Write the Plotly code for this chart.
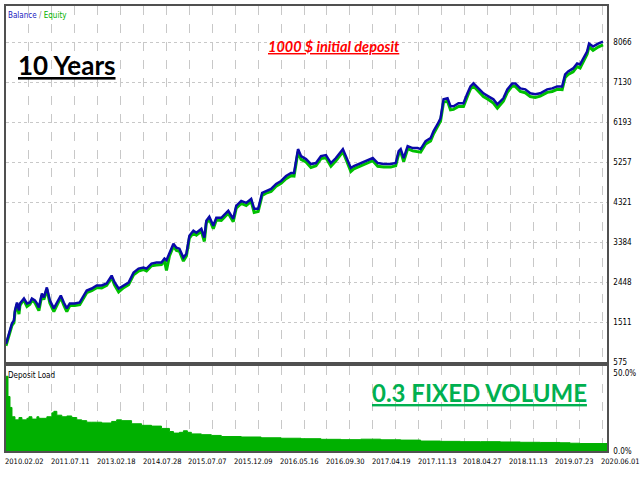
import plotly.graph_objects as go

# balance / equity curve, sampled along the tester time axis
bars = [0, 3, 6, 8, 9, 11, 13, 14, 16, 18, 21, 24, 26, 29, 31, 33, 36, 38, 41, 44,
        48, 51, 55, 58, 61, 64, 69, 74, 78, 81, 86, 91, 96, 101, 106, 109, 113, 118, 123, 128,
        133, 138, 141, 146, 151, 156, 159, 161, 164, 168, 171, 174, 178, 181, 184, 188, 191, 196, 199, 201,
        204, 208, 211, 216, 223, 228, 231, 236, 241, 246, 249, 253, 257, 261, 266, 271, 276, 281, 286, 289,
        293, 296, 301, 306, 311, 316, 321, 326, 331, 338, 341, 346, 349, 356, 361, 368, 373, 379, 386, 391,
        394, 396, 399, 403, 408, 413, 416, 421, 426, 429, 433, 436, 439, 443, 446, 449, 454, 459, 463, 466,
        469, 474, 479, 484, 489, 493, 496, 499, 503, 508, 511, 516, 521, 526, 531, 536, 543, 548, 553, 558,
        561, 564, 569, 573, 576, 579, 583, 585, 589, 594, 599]
balance = [1000, 1251, 1484, 1554, 1787, 1973, 1787, 1950, 2020, 2066, 1950, 1973, 2066, 2020, 1950, 1857, 2183, 2090, 2323, 2020,
           1833, 1950, 2136, 1973, 1833, 1950, 1950, 1973, 2136, 2253, 2299, 2369, 2369, 2416, 2602, 2439, 2299, 2369, 2439, 2672,
           2765, 2789, 2765, 2882, 2905, 2905, 2998, 2960, 3115, 3348, 3255, 3231, 3022, 3115, 3534, 3651, 3604, 3697, 3488, 3884,
           3977, 3767, 3954, 3954, 4117, 3930, 4233, 4350, 4303, 4396, 4163, 4163, 4536, 4583, 4629, 4746, 4816, 4932, 5002, 5002,
           5561, 5398, 5328, 5212, 5235, 5398, 5421, 5235, 5352, 5561, 5398, 5119, 5165, 5235, 5282, 5352, 5235, 5212, 5212, 5235,
           5515, 5561, 5352, 5631, 5585, 5585, 5561, 5748, 5818, 5981, 6144, 6284, 6726, 6750, 6563, 6563, 6633, 6633, 6866, 7029,
           7099, 6983, 6866, 6796, 6726, 6610, 6680, 6750, 6959, 7099, 7099, 6983, 6959, 6866, 6843, 6866, 6959, 6983, 7029, 7029,
           7309, 7379, 7449, 7565, 7542, 7682, 7845, 8031, 7961, 8031, 8078]
equity = [960, 1200, 1440, 1500, 1740, 1930, 1700, 1900, 1980, 2020, 1880, 1930, 2020, 1970, 1890, 1780, 2140, 2040, 2280, 1960,
          1760, 1900, 2090, 1910, 1760, 1900, 1900, 1920, 2080, 2200, 2250, 2320, 2310, 2370, 2550, 2380, 2220, 2320, 2390, 2620,
          2710, 2740, 2710, 2830, 2850, 2860, 2950, 2720, 3060, 3290, 3190, 3170, 2940, 3060, 3480, 3600, 3550, 3640, 3400, 3830,
          3920, 3700, 3900, 3890, 4060, 3860, 4180, 4290, 4240, 4340, 4080, 4100, 4480, 4530, 4570, 4690, 4760, 4870, 4940, 4930,
          5500, 5320, 5260, 5130, 5170, 5340, 5360, 5160, 5290, 5500, 5330, 5040, 5100, 5170, 5220, 5290, 5160, 5140, 5140, 5170,
          5450, 5500, 5270, 5570, 5520, 5510, 5490, 5680, 5750, 5920, 6080, 6220, 6660, 6680, 6480, 6490, 6560, 6560, 6800, 6970,
          7040, 6910, 6790, 6720, 6640, 6520, 6610, 6680, 6890, 7040, 7030, 6910, 6880, 6790, 6770, 6800, 6890, 6910, 6960, 6950,
          7240, 7310, 7370, 7490, 7460, 7610, 7780, 7960, 7870, 7950, 8000]

# deposit load (%)
load_bars = [0, 2, 4, 6, 9, 13, 16, 21, 23, 26, 31, 33, 36, 41, 46, 48, 51, 56, 61, 66,
             71, 76, 81, 86, 91, 96, 106, 111, 116, 126, 136, 146, 156, 164, 168, 174, 178, 182, 186, 196,
             206, 216, 236, 256, 276, 296, 316, 336, 356, 376, 396, 416, 436, 456, 476, 496, 516, 536, 556, 566,
             576, 603]
load = [48, 35, 28, 22, 20, 21.5, 20, 21, 22, 20.5, 22, 21, 21, 22, 24.5, 25.5, 23, 22, 22.5, 21.5,
        20, 19.5, 18.5, 18.5, 18.5, 18, 19, 20, 19.5, 17.5, 16.5, 16, 14.5, 12.5, 11.5, 12, 13, 12, 11, 10.5,
        10, 9.3, 9, 8.5, 8.2, 7.9, 7.5, 7.3, 7.6, 7.2, 7, 6.4, 6.2, 6, 6, 5.8, 5.6, 5.5, 5.3, 5,
        4.8, 4.6]

y_ticks = [575, 1511, 2448, 3384, 4321, 5257, 6193, 7130, 8066]
date_labels = ["2010.02.02", "2011.07.11", "2013.02.18", "2014.07.28", "2015.07.07",
               "2015.12.09", "2016.05.16", "2016.09.30", "2017.04.19", "2017.11.13",
               "2018.04.27", "2018.11.13", "2019.07.23", "2020.06.01"]

SMALL = "DejaVu Sans Condensed, DejaVu Sans, sans-serif"
BIG = "Lato, Roboto, sans-serif"
grid_x = list(range(0, 599, 23))

fig = go.Figure()
fig.add_trace(go.Scatter(x=bars, y=equity, mode="lines",
                         line=dict(color="#00c000", width=3), xaxis="x", yaxis="y"))
fig.add_trace(go.Scatter(x=bars, y=balance, mode="lines",
                         line=dict(color="#0a0aa8", width=2.5), xaxis="x", yaxis="y"))
fig.add_trace(go.Scatter(x=load_bars, y=load, mode="lines", fill="tozeroy",
                         line=dict(color="#00b000", width=1, shape="hv"),
                         fillcolor="#00b000", xaxis="x2", yaxis="y2"))

axis_common = dict(showline=True, mirror=True, linecolor="#505050", linewidth=1.5,
                   zeroline=False)

fig.update_layout(
    width=640, height=480,
    margin=dict(l=4, r=33, t=5, b=29),
    paper_bgcolor="white", plot_bgcolor="white",
    showlegend=False,
    font=dict(family=SMALL, size=8, color="black"),
    xaxis=dict(range=[0, 603], tickvals=grid_x, showticklabels=False, ticks="",
               showgrid=True, gridcolor="#c8c8c8", griddash="dash", anchor="y",
               **axis_common),
    yaxis=dict(domain=[0.1996, 1], range=[575, 8910], side="right",
               tickvals=y_ticks, ticktext=[str(v) for v in y_ticks],
               showgrid=True, gridcolor="#c8c8c8", griddash="dot",
               ticks="", ticklabelstandoff=3, tickfont=dict(size=8),
               **axis_common),
    xaxis2=dict(range=[0, 603], tickvals=grid_x, showticklabels=False, ticks="",
                showgrid=True, gridcolor="#c8c8c8", griddash="dash", anchor="y2",
                matches="x", **axis_common),
    yaxis2=dict(domain=[0, 0.1906], range=[0, 54.5], side="right",
                tickvals=[0, 50], ticktext=["0.0%", "50.0%"], showgrid=False,
                ticks="", ticklabelstandoff=3, tickfont=dict(size=8),
                **axis_common),
)

for i, lab in enumerate(date_labels):
    fig.add_annotation(x=grid_x[i * 2], y=0, xref="x2", yref="paper",
                       text=lab, showarrow=False, xanchor="left", yanchor="top",
                       yshift=-4, xshift=-3, font=dict(size=7.5, family=SMALL))

fig.add_annotation(x=0.0, y=0.978, xref="paper", yref="paper", showarrow=False,
                   xanchor="left", yanchor="middle",
                   text="<span style='color:#2020c0'>Balance</span> "
                        "<span style='color:#808080'>/</span> "
                        "<span style='color:#00b000'>Equity</span>",
                   font=dict(size=8, family=SMALL))
fig.add_annotation(x=0.0, y=0.170, xref="paper", yref="paper", showarrow=False,
                   xanchor="left", yanchor="middle", text="Deposit Load",
                   font=dict(size=8, family=SMALL))
fig.add_annotation(x=0.101, y=0.868, xref="paper", yref="paper", showarrow=False,
                   xanchor="center", yanchor="middle", text="<b>10 Years</b>",
                   font=dict(size=26, family=BIG, color="black", lineposition="under"))
fig.add_annotation(x=0.5456, y=0.908, xref="paper", yref="paper", showarrow=False,
                   xanchor="center", yanchor="middle", text="<b><i>1000 $ initial deposit</i></b>",
                   font=dict(size=14.5, family=BIG, color="#ff0000", lineposition="under"))
fig.add_annotation(x=0.7877, y=0.1323, xref="paper", yref="paper", showarrow=False,
                   xanchor="center", yanchor="middle", text="<b>0.3 FIXED VOLUME</b>",
                   font=dict(size=24, family=BIG, color="#00b050", lineposition="under"))

fig.write_html("out.html", config={"displayModeBar": False},
               post_script="document.body.style.margin='0';")
